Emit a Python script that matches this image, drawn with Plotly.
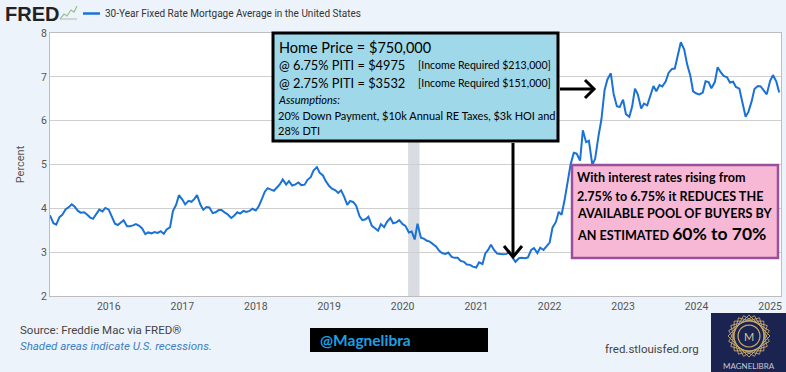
import math
import pandas as pd
import plotly.graph_objects as go

# ---------------- data (semi-monthly readings of the FRED line) ----------------
rates_2015 = [3.84, 3.66, 3.63, 3.80, 3.85, 3.98, 4.02, 4.09, 4.04, 3.94, 3.90, 3.91,
              3.86, 3.79, 3.76, 3.87, 3.97, 3.93, 4.01]
rates_2016 = [3.97, 3.81, 3.65, 3.62, 3.68, 3.73, 3.59, 3.59, 3.61, 3.64, 3.60, 3.54,
              3.41, 3.45, 3.43, 3.46, 3.44, 3.48, 3.42, 3.52, 3.57, 3.94, 4.08, 4.30]
rates_2017 = [4.20, 4.09, 4.17, 4.15, 4.21, 4.30, 4.08, 3.97, 4.03, 4.02, 3.89, 3.91,
              3.96, 3.96, 3.90, 3.86, 3.78, 3.83, 3.91, 3.88, 3.94, 3.92, 3.94, 3.99]
rates_2018 = [3.95, 4.04, 4.22, 4.38, 4.46, 4.44, 4.40, 4.47, 4.55, 4.66, 4.54, 4.62,
              4.52, 4.54, 4.59, 4.53, 4.54, 4.65, 4.71, 4.86, 4.94, 4.81, 4.75, 4.62]
rates_2019 = [4.51, 4.45, 4.41, 4.35, 4.41, 4.28, 4.08, 4.17, 4.14, 4.06, 3.82, 3.73,
              3.75, 3.81, 3.60, 3.55, 3.49, 3.64, 3.57, 3.69, 3.78, 3.66, 3.68, 3.73]
rates_2020 = [3.64, 3.60, 3.45, 3.47, 3.29, 3.65, 3.33, 3.31, 3.26, 3.24, 3.18, 3.13,
              3.03, 2.98, 2.96, 2.99, 2.89, 2.87, 2.87, 2.80, 2.78, 2.72, 2.71, 2.67]
rates_2021 = [2.65, 2.77, 2.73, 2.97, 3.05, 3.17, 3.04, 2.97, 2.96, 2.95, 2.96, 3.02,
              2.88, 2.78, 2.86, 2.87, 2.86, 2.88, 3.05, 3.09, 2.98, 3.10, 3.05, 3.12]
rates_2022 = [3.22, 3.56, 3.69, 3.92, 3.85, 4.16, 4.67, 5.00, 5.27, 5.25, 5.09, 5.78,
              5.51, 5.54, 4.99, 5.13, 5.66, 6.02, 6.70, 6.94, 7.08, 6.61, 6.33, 6.31]
rates_2023 = [6.48, 6.15, 6.09, 6.32, 6.73, 6.60, 6.28, 6.39, 6.35, 6.57, 6.79, 6.67,
              6.81, 6.78, 6.90, 7.09, 7.18, 7.19, 7.49, 7.79, 7.62, 7.29, 7.03, 6.67]
rates_2024 = [6.62, 6.60, 6.64, 6.90, 6.88, 6.74, 6.88, 7.22, 7.10, 7.02, 6.99, 6.87,
              6.89, 6.77, 6.73, 6.46, 6.09, 6.20, 6.44, 6.72, 6.79, 6.78, 6.69, 6.60]
rates_2025 = [6.91, 7.04, 6.89, 6.64]

rates = (rates_2015 + rates_2016 + rates_2017 + rates_2018 + rates_2019 + rates_2020
         + rates_2021 + rates_2022 + rates_2023 + rates_2024 + rates_2025)
dates = pd.date_range("2015-03-15", periods=len(rates), freq="SMS")

year_ticks = ["2016-01-01", "2017-01-01", "2018-01-01", "2019-01-01", "2020-01-01",
              "2021-01-01", "2022-01-01", "2023-01-01", "2024-01-01", "2025-01-01"]
year_labels = ["2016", "2017", "2018", "2019", "2020", "2021", "2022", "2023", "2024", "2025"]
y_ticks = [2, 3, 4, 5, 6, 7, 8]
recession = ("2020-01-28", "2020-03-25")

series_name = "30-Year Fixed Rate Mortgage Average in the United States"

# ---------------- layout helpers (pixel -> paper) ----------------
W, H = 786, 372
L, R, T, B = 50, 781, 33, 296


def px(x):
    return (x - L) / (R - L)


def py(y):
    return (B - y) / (B - T)


BG = "#edf3fa"
LINE = "#1a72d6"

fig = go.Figure()
fig.add_trace(go.Scatter(x=dates, y=rates, mode="lines",
                         line=dict(color=LINE, width=2), showlegend=False,
                         hoverinfo="skip"))

fig.add_vrect(x0=recession[0], x1=recession[1], fillcolor="#d9dde3",
              line_width=0, layer="below", opacity=1)

shapes = []
annos = []


def rect(x0, y0, x1, y1, fill, line_color=None, lw=0):
    shapes.append(dict(type="rect", xref="paper", yref="paper",
                       x0=px(x0), x1=px(x1), y0=py(y1), y1=py(y0),
                       fillcolor=fill, layer="above",
                       line=dict(color=line_color or fill, width=lw)))


def path(points, color, width, fill=None, close=False):
    d = "M " + " L ".join(f"{px(a):.5f},{py(b):.5f}" for a, b in points)
    if close:
        d += " Z"
    shapes.append(dict(type="path", xref="paper", yref="paper", path=d,
                       line=dict(color=color, width=width), layer="above",
                       fillcolor=fill if fill else "rgba(0,0,0,0)"))


def text(x, y, s, size, color="#000", family="Lato", xanchor="left", weight=None):
    f = dict(size=size, color=color, family=family)
    if weight:
        f["weight"] = weight
    annos.append(dict(xref="paper", yref="paper", x=px(x), y=py(y), text=s,
                      showarrow=False, xanchor=xanchor, yanchor="middle",
                      font=f))


# header: FRED logo + legend
text(3, 14, "<b>FRED</b>", 20, "#222", "Liberation Sans")
path([(60, 19), (64, 14), (67, 16), (71, 10), (74, 12), (77, 6)], "#9bbf8a", 1.2)
path([(60, 19), (77, 19)], "#b5b5b5", 1)
path([(83, 13.5), (100, 13.5)], LINE, 2.5)
text(103, 13.5, series_name, 10, "#333", "Roboto")

# cyan info box
rect(273, 33, 558, 141, "#9fd8e9", "#000", 3)
text(277, 47, "Home Price = $750,000", 14.5)
text(277, 65, "@ 6.75% PITI = $4975", 12.8)
text(416, 65, "[Income Required $213,000]", 10.6)
text(277, 83, "@ 2.75% PITI = $3532", 12.8)
text(416, 83, "[Income Required $151,000]", 10.6)
text(276, 100, "<i>Assumptions:</i>", 11)
text(276, 115, "20% Down Payment, $10k Annual RE Taxes, $3k HOI and", 11)
text(276, 130, "28% DTI", 11)

# arrows
path([(513, 143), (513, 256)], "#000", 3)
path([(504, 246), (513, 257), (522, 246)], "#000", 3)
path([(560, 89), (593, 89)], "#000", 3)
path([(585, 80), (594, 89), (585, 98)], "#000", 3)

# pink box
rect(572, 165, 778, 258, "#f7b8d5", "#9a4f9c", 2.5)
text(575, 178, "<b>With interest rates rising from</b>", 12.6)
text(575, 196, "<b>2.75% to 6.75% it REDUCES THE</b>", 12.6)
text(575, 213, "<b>AVAILABLE POOL OF BUYERS BY</b>", 12.6)
text(575, 233, "<b>AN ESTIMATED <span style='font-size:17.5px'>60% to 70%</span></b>", 12.6)

# footer
text(18, 330, "Source: Freddie Mac via FRED®", 11.5, "#444", "Roboto")
text(18, 346, "<i>Shaded areas indicate U.S. recessions.</i>", 11.5, "#3a7fc4", "Roboto")
rect(310, 328, 488, 352, "#000")
text(318, 340, "<b>@Magnelibra</b>", 15.5, "#1e9fe2", "Lato")
text(603, 349, "fred.stlouisfed.org", 11.5, "#444", "Roboto")

# logo
rect(711, 313, 786, 372, "#1b2350")
cx, cy, rr = 749, 336, 21
gold = "#c9ab6e"
for k in range(6):
    a0 = math.radians(15 * k)
    pts = []
    for j in range(5):
        a = a0 + math.radians(45 + 90 * j)
        pts.append((cx + rr * math.cos(a), cy + rr * math.sin(a)))
    path(pts, gold, 0.9)
cpts = [(cx + 11 * math.cos(math.radians(t)), cy + 11 * math.sin(math.radians(t)))
        for t in range(0, 361, 15)]
path(cpts, gold, 1.2)
text(cx, cy, "M", 11, "#d8c9a0", "Lato", xanchor="center")
text(749, 366, "MAGNELIBRA", 8, "#c8c8d0", "Lato", xanchor="center")

fig.update_layout(
    width=W, height=H,
    margin=dict(l=L, r=W - R, t=T, b=H - B),
    paper_bgcolor=BG, plot_bgcolor="#ffffff",
    shapes=list(fig.layout.shapes) + shapes,
    annotations=annos,
    xaxis=dict(range=["2015-03-15", "2025-02-24"], tickvals=year_ticks,
               ticktext=year_labels, showgrid=False, showline=True,
               linecolor="#bdbdbd", linewidth=1, mirror=True,
               tickfont=dict(family="Roboto", size=10.5, color="#555"),
               ticks="", zeroline=False),
    yaxis=dict(range=[2, 8], tickvals=y_ticks, showgrid=True, gridcolor="#cfcfcf",
               gridwidth=1, showline=True, linecolor="#bdbdbd", linewidth=1,
               mirror=True, zeroline=False,
               tickfont=dict(family="Roboto", size=10.5, color="#555"),
               title=dict(text="Percent", font=dict(family="Roboto", size=11, color="#555"),
                          standoff=14)),
)

fig.write_html("out.html", config={"displayModeBar": False},
               post_script="document.body.style.margin='0';document.body.style.padding='0';"
                           "document.body.style.overflow='hidden';")
